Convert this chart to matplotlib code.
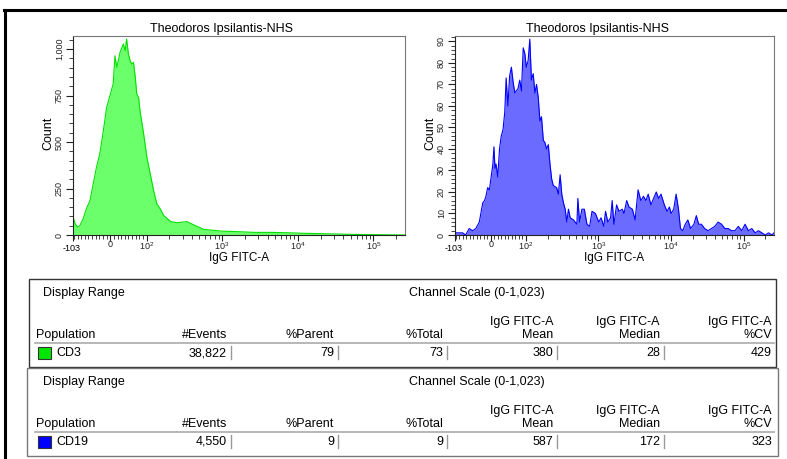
import numpy as np
import matplotlib
matplotlib.use("Agg")
import matplotlib.pyplot as plt
import matplotlib.ticker as mtick
from matplotlib.lines import Line2D
from matplotlib.patches import Rectangle

plt.rcParams['font.family'] = ['Liberation Sans', 'DejaVu Sans']
plt.rcParams['mathtext.fontset'] = 'custom'
plt.rcParams['mathtext.rm'] = 'Liberation Sans'
plt.rcParams['mathtext.it'] = 'Liberation Sans'

# histogram data (IgG FITC-A value, count)
cd3_x = [-103, -97, -90, -84, -75, -66, -56, -47, -38, -29, -19, -10, -1, 8, 13, 18, 27, 36,
         41, 45, 50, 55, 59, 64, 69, 73, 78, 82, 92, 101, 112, 124, 137, 152, 169, 209, 252,
         341, 423, 575, 970, 1585, 2680, 4500, 7360, 12400, 20900, 34150, 57500, 97000, 262000]
cd3_count = [100, 60, 42, 50, 86, 140, 185, 274, 364, 435, 561, 686, 749, 812, 964, 901, 982, 1027,
             991, 1054, 973, 937, 919, 928, 848, 758, 740, 668, 543, 418, 328, 238, 167, 140, 104, 72, 66,
             72, 54, 30, 21, 18, 14, 14, 12, 9, 7, 5, 3, 2, 0]

cd19_x = [-103, -91, -81, -72, -62, -52, -43, -33, -23, -18, -14, -9, -4, 6, 9, 12, 15, 20, 25,
          30, 35, 40, 44, 49, 54, 59, 64, 69, 73, 78, 83, 88, 93, 98, 102, 108, 114, 120, 127,
          134, 141, 149, 157, 165, 175, 184, 194, 205, 216, 228, 240, 267, 282, 298, 314, 331,
          350, 368, 388, 410, 456, 507, 523, 552, 594, 642, 698, 760, 819, 913, 1014, 1091, 1190,
          1257, 1352, 1475, 1552, 1639, 1786, 1923, 2137, 2256, 2459, 2648, 2942, 3208, 3530, 3849,
          4181, 4514, 4861, 5300, 5757, 6277, 6756, 7296, 8110, 8838, 9516, 10040, 10910, 11780,
          12690, 13520, 14560, 15720, 17080, 18620, 20700, 22350, 24050, 26220, 29130, 32380,
          36090, 40110, 44580, 49690, 55230, 61390, 68420, 76040, 84520, 94210, 104700, 116400,
          129700, 144200, 160300, 178600, 198500, 220700, 246000, 262000]
cd19_count = [1, 1, 1, 0, 3, 2, 3, 6, 15, 16, 18, 22, 21, 33, 41, 31, 33, 27, 40,
              46, 49, 57, 73, 60, 74, 78, 71, 66, 67, 68, 72, 67, 87, 84, 78, 81, 91, 72, 75,
              66, 70, 64, 53, 55, 44, 43, 40, 42, 33, 26, 23, 22, 19, 28, 19, 15,
              12, 6, 12, 8, 7, 5, 17, 6, 12, 12, 5, 4, 11, 10, 6, 8, 4,
              11, 6, 8, 16, 5, 14, 11, 12, 10, 16, 13, 12, 7, 21, 16,
              18, 16, 19, 14, 17, 20, 17, 19, 14, 11, 13, 10, 12, 19,
              12, 3, 2, 5, 7, 3, 5, 9, 5, 5, 3, 2,
              3, 4, 6, 5, 3, 3, 2, 2, 4, 2, 5, 2,
              3, 1, 2, 1, 0, 1, 0, 1]

# table data
populations = ['CD3', 'CD19']
pop_colors = ['#00e600', '#0000ff']
events = ['38,822', '4,550']
pct_parent = ['79', '9']
pct_total = ['73', '9']
mean_vals = ['380', '587']
median_vals = ['28', '172']
cv_vals = ['429', '323']

W, H = 787, 459


def fx(x):
    return x / W


def fy(y):
    return 1 - y / H


def fwd(x):
    x = np.asarray(x, dtype=float)
    a = np.abs(x)
    return np.where(a <= 100, 0.0048 * x,
                    np.sign(x) * (0.48 + np.log10(np.maximum(a, 100) / 100)))


def inv(t):
    t = np.asarray(t, dtype=float)
    a = np.abs(t)
    return np.where(a <= 0.48, t / 0.0048,
                    np.sign(t) * 100 * 10 ** (np.maximum(a, 0.48) - 0.48))


def setup_hist(ax, x, y, fill, line, ymax, major, minor, ylabels):
    ax.set_xscale('function', functions=(fwd, inv))
    ax.fill_between(x, y, 0, color=fill, lw=0)
    ax.plot(x, y, color=line, lw=0.8)
    ax.set_xlim(-103, 262144)
    ax.set_ylim(0, ymax)
    ax.set_xticks([-103, 0, 100, 1000, 10000, 100000])
    ax.set_xticklabels(['', '0', '$10^2$', '$10^3$', '$10^4$', '$10^5$'], fontsize=6.5)
    minors = list(range(-100, 0, 10)) + list(range(10, 100, 10))
    for dec in [100, 1000, 10000, 100000]:
        minors += [k * dec for k in range(2, 10) if k * dec < 262144]
    ax.set_xticks(minors, minor=True)
    ax.yaxis.set_major_locator(mtick.MultipleLocator(major))
    ax.yaxis.set_minor_locator(mtick.MultipleLocator(minor))
    ax.set_yticks(np.arange(0, len(ylabels)) * major)
    ax.set_yticklabels(ylabels, fontsize=6.5, rotation=90, va='center')
    ax.tick_params(which='major', direction='out', length=5, width=0.8, pad=1.5, colors='#222')
    ax.tick_params(axis='x', which='major', length=4, pad=-0.5)
    ax.tick_params(which='minor', direction='out', length=3, width=0.6, colors='#222')
    for side in ['left', 'bottom']:
        ax.spines[side].set_color('#222')
    for side in ['top', 'right']:
        ax.spines[side].set_color('#777')


fig = plt.figure(figsize=(W / 100, H / 100), dpi=100)

ax1 = fig.add_axes([fx(73), fy(235), (405 - 73) / W, (235 - 36) / H])
setup_hist(ax1, cd3_x, cd3_count, '#6cff6c', '#00e000', 1070, 250, 50,
           ['0', '250', '500', '750', '1,000'])
ax2 = fig.add_axes([fx(455), fy(235), (774 - 455) / W, (235 - 36) / H])
setup_hist(ax2, cd19_x, cd19_count, '#6b6bff', '#0000ff', 92.5, 10, 2,
           [str(v) for v in range(0, 100, 10)])

for xc, xl, yl, tc in [(222, 239, 48, 72), (598, 614, 430, 454)]:
    fig.text(fx(xc), fy(29), 'Theodoros Ipsilantis-NHS', fontsize=9, ha='center', va='center')
    fig.text(fx(yl), fy(133), 'Count', fontsize=9, rotation=90, ha='center', va='center')
    fig.text(fx(xl), fy(258), 'IgG FITC-A', fontsize=8.5, ha='center', va='center')
    fig.text(fx(tc), fy(248), '-103', fontsize=6.5, ha='center', va='center')

# outer frame
fig.add_artist(Line2D([fx(4), 1], [fy(10), fy(10)], color='black', lw=2.2))
fig.add_artist(Line2D([fx(5), fx(5)], [fy(10), 0], color='black', lw=2.2))

# statistics tables
col_right = [227, 334, 443, 553, 660, 772]
tables = [(29, 279, 776, '#333333'), (27, 368, 778, '#777777')]
for i, (left, top, right, edge) in enumerate(tables):
    fig.add_artist(Rectangle((fx(left), fy(top + 88)), (right - left) / W, 88 / H,
                             fill=False, edgecolor=edge, lw=1.0))
    fig.text(fx(43), fy(top + 14), 'Display Range', fontsize=9, va='center')
    fig.text(fx(477), fy(top + 14), 'Channel Scale (0-1,023)', fontsize=9, ha='center', va='center')
    fig.text(fx(36), fy(top + 56), 'Population', fontsize=9, va='center')
    heads = ['#Events', '%Parent', '%Total', 'Mean', 'Median', '%CV']
    for j, h in enumerate(heads):
        fig.text(fx(col_right[j]), fy(top + 56), h, fontsize=9, ha='right', va='center')
        if j >= 3:
            fig.text(fx(col_right[j]), fy(top + 43), 'IgG FITC-A', fontsize=9, ha='right', va='center')
    fig.add_artist(Line2D([fx(35), fx(774)], [fy(top + 64), fy(top + 64)], color='#aaaaaa', lw=1.2))
    row = [events[i], pct_parent[i], pct_total[i], mean_vals[i], median_vals[i], cv_vals[i]]
    for j, v in enumerate(row):
        fig.text(fx(col_right[j]), fy(top + 74), v, fontsize=9, ha='right', va='center')
        if j < 5:
            xb = col_right[j] + 4
            fig.add_artist(Line2D([fx(xb), fx(xb)], [fy(top + 67), fy(top + 80)], color='#999999', lw=1))
    fig.add_artist(Rectangle((fx(37.5), fy(top + 80)), 13 / W, 12 / H,
                             facecolor=pop_colors[i], edgecolor='#333333', lw=0.8))
    fig.text(fx(56), fy(top + 74), populations[i], fontsize=9, va='center')

fig.savefig('out.png', dpi=100)
